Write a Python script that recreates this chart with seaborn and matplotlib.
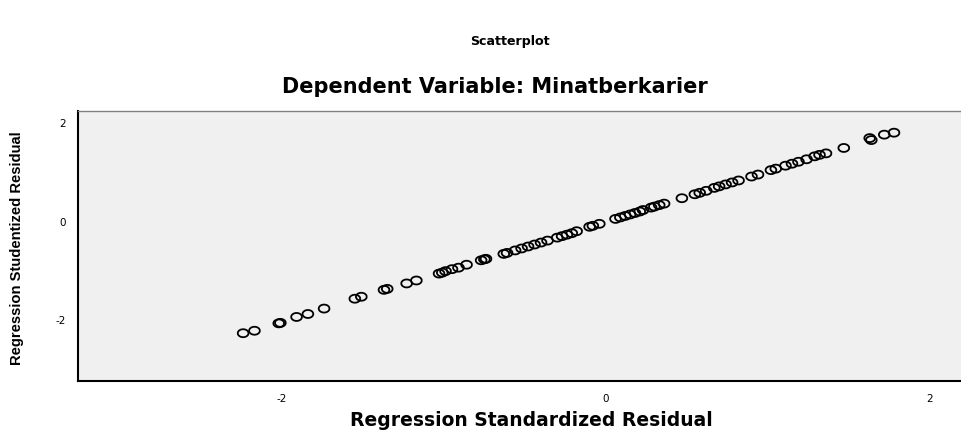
import numpy as np
import pandas as pd
import matplotlib
matplotlib.use("Agg")
import matplotlib.pyplot as plt
import seaborn as sns

std_resid = [-2.24, -2.17, -2.02, -2.01, -1.91, -1.84, -1.74, -1.55, -1.51, -1.37,
             -1.35, -1.23, -1.17, -1.03, -1.01, -0.99, -0.95, -0.91, -0.86, -0.77,
             -0.75, -0.74, -0.63, -0.61, -0.56, -0.52, -0.48, -0.44, -0.40, -0.36,
             -0.30, -0.27, -0.24, -0.21, -0.18, -0.10, -0.08, -0.04, 0.06, 0.09,
             0.12, 0.15, 0.18, 0.21, 0.23, 0.28, 0.30, 0.33, 0.36, 0.47,
             0.55, 0.58, 0.62, 0.67, 0.70, 0.74, 0.78, 0.82, 0.90, 0.94,
             1.02, 1.05, 1.11, 1.15, 1.19, 1.24, 1.29, 1.32, 1.36, 1.47,
             1.63, 1.64, 1.72, 1.78]
stud_resid = [-2.26, -2.21, -2.06, -2.05, -1.93, -1.87, -1.76, -1.56, -1.52, -1.38,
              -1.36, -1.25, -1.19, -1.05, -1.03, -1.00, -0.96, -0.93, -0.87, -0.78,
              -0.76, -0.75, -0.65, -0.63, -0.58, -0.54, -0.50, -0.46, -0.42, -0.38,
              -0.32, -0.29, -0.26, -0.23, -0.19, -0.10, -0.08, -0.04, 0.06, 0.09,
              0.12, 0.15, 0.18, 0.21, 0.24, 0.29, 0.31, 0.34, 0.37, 0.48,
              0.56, 0.59, 0.63, 0.69, 0.72, 0.76, 0.80, 0.84, 0.92, 0.96,
              1.05, 1.08, 1.14, 1.18, 1.22, 1.27, 1.33, 1.36, 1.39, 1.50,
              1.70, 1.66, 1.77, 1.81]
x_ticks = [-2, 0, 2]
y_ticks = [-2, 0, 2]

df = pd.DataFrame({"std": std_resid, "stud": stud_resid})

sns.set_style("white")
plt.rcParams["font.family"] = ["Liberation Sans", "DejaVu Sans"]
plt.rcParams["text.color"] = "black"

fig = plt.figure(figsize=(9.62, 4.30), dpi=100)
ax = fig.add_axes([78/962, 1-381/430, 1-78/962, (381-111)/430])
ax.set_facecolor("#F0F0F0")

t = np.linspace(0, 2*np.pi, 40)
ell = np.column_stack([1.35*np.cos(t), np.sin(t)])

sns.scatterplot(data=df, x="std", y="stud", ax=ax, marker=ell, s=60,
                facecolor="none", edgecolor="black", linewidth=1.3)

ax.set_xlim(-3.26, 2.2)
ax.set_ylim(-3.23, 2.25)
ax.set_xticks(x_ticks)
ax.set_yticks(y_ticks)
ax.set_xticklabels([str(v) for v in x_ticks])
ax.set_yticklabels([str(v) for v in y_ticks])
ax.tick_params(axis="both", direction="out", length=5, width=1, colors="black",
               labelsize=8, pad=4)
for lab in ax.get_xticklabels() + ax.get_yticklabels():
    lab.set_family(["DejaVu Sans"])
    lab.set_fontsize(7.5)
ax.set_xlabel("")
ax.set_ylabel("")

for side in ["left", "bottom"]:
    ax.spines[side].set_color("black")
    ax.spines[side].set_linewidth(1.5)
ax.spines["top"].set_color("#808080")
ax.spines["top"].set_linewidth(1.0)
ax.spines["right"].set_visible(False)

renderer = fig.canvas.get_renderer()


def fitted_text(cx, cy, s, target, size0, family, rotation=0):
    txt = fig.text(cx/962, 1-cy/430, s, ha="center", va="center",
                   fontsize=size0, fontweight="bold", family=family,
                   rotation=rotation, color="black")
    bb = txt.get_window_extent(renderer)
    length = bb.height if rotation else bb.width
    txt.set_fontsize(size0 * target / length)
    return txt


wide = ["DejaVu Sans"]
fitted_text(510, 42, "Scatterplot", 80, 10, wide)
fitted_text(495, 87, "Dependent Variable: Minatberkarier", 425, 12, wide)
fitted_text(531, 420, "Regression Standardized Residual", 360, 12, wide)
fitted_text(17, 248, "Regression Studentized Residual", 235, 11,
            ["Liberation Sans", "DejaVu Sans"], rotation=90)

fig.savefig("out.png", dpi=100)
